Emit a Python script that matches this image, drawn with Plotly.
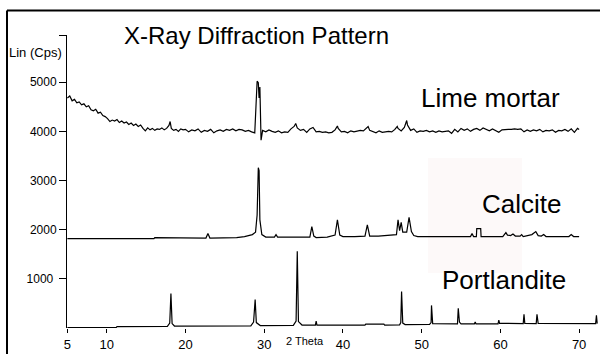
import plotly.graph_objects as go

# ---------------- data ----------------
lime_x = [5.0, 5.3, 5.6, 5.9, 6.2, 6.5, 6.8, 7.1, 7.4, 7.7, 8.0, 8.3, 8.6, 8.9, 9.2, 9.5, 9.8,
          10.1, 10.4, 10.7, 11.0, 11.3, 11.6, 11.9, 12.2, 12.5, 12.8, 13.1, 13.4, 13.7, 14.0,
          14.3, 14.6, 14.9, 15.2, 15.5, 15.8, 16.1, 16.4, 16.7, 17.0, 17.3, 17.6, 17.9, 18.05,
          18.2, 18.5, 18.8, 19.1, 19.4, 19.7,
          20.0, 20.4, 20.8, 21.2, 21.6, 22.0, 22.4, 22.8, 23.2, 23.6, 24.0, 24.4, 24.8, 25.2,
          25.6, 26.0, 26.4, 26.8, 27.2, 27.6, 28.0, 28.4, 28.8,
          29.1, 29.25, 29.35, 29.45, 29.6, 29.8,
          30.2, 30.6, 31.0, 31.4, 31.8, 32.2, 32.6, 33.0, 33.4, 33.8, 34.0, 34.2, 34.6, 35.0,
          35.4, 35.8, 36.2, 36.6, 37.0, 37.4, 37.8, 38.2, 38.6, 39.0, 39.3, 39.4, 39.8, 40.2,
          40.6, 41.0, 41.4, 41.8, 42.2, 42.6, 43.0, 43.2, 43.4, 43.8, 44.2, 44.6, 45.0, 45.4,
          45.8, 46.2, 46.6, 46.9, 47.0, 47.4, 47.8, 48.1, 48.2, 48.6, 49.0, 49.4, 49.8, 50.2,
          50.6, 51.0, 51.4, 51.8, 52.2, 52.6, 53.0, 53.4, 53.8, 54.2, 54.6, 55.0, 55.4, 55.8,
          56.2, 56.6, 57.0, 57.4, 57.8, 58.2, 58.6, 59.0, 59.4, 59.8, 60.2, 60.6, 61.0, 61.4,
          61.8, 62.2, 62.6, 63.0, 63.4, 63.8, 64.2, 64.6, 65.0, 65.4, 65.8, 66.2, 66.6, 67.0,
          67.4, 67.8, 68.2, 68.6, 69.0, 69.4, 69.8, 70.0]
lime_y = [4680, 4720, 4620, 4650, 4580, 4600, 4540, 4560, 4500, 4520, 4440, 4420, 4450, 4370,
          4390, 4320, 4300, 4260, 4200, 4230, 4210, 4240, 4180, 4210, 4170, 4190, 4140, 4170,
          4120, 4150, 4100, 4130, 4060, 4010, 4070, 4030, 4060, 4020, 4050, 4040, 4070, 4030,
          4060, 4120, 4200, 4060, 4020, 4040, 4000, 4050, 4030,
          4040, 3990, 4030, 4010, 4050, 3980, 4020, 4000, 4040, 3970, 4010, 4030, 4000, 4040,
          4020, 4050, 4010, 4040, 4030, 4000, 4020, 3990, 3970,
          5020, 4990, 4680, 4900, 3820, 4020,
          3990, 4030, 4000, 3980, 4010, 3970, 3990, 3980, 4050, 4100, 4160, 4070, 4020, 4040,
          3980, 4050, 4080, 3990, 4000, 3980, 3990, 3970, 3980, 4030, 4110, 4060, 3990, 4000,
          3970, 4010, 3990, 4000, 4020, 4010, 4070, 4100, 4020, 4000, 3970, 4010, 3980, 3990,
          4000, 3990, 4040, 4100, 4060, 4010, 4080, 4220, 4130, 4020, 4050, 3980, 4010, 4000,
          4020, 3990, 4010, 3980, 4010, 3990, 4000, 4010, 3960, 4040, 3990, 4060, 4020, 4050,
          4000, 4040, 4060, 4020, 4070, 4040, 4010, 4050, 4020, 3980, 4030, 4040, 4040, 4040,
          4050, 4040, 4050, 3990, 4030, 4000, 4030, 4010, 4040, 3990, 4020, 4010, 4030, 3980,
          4020, 4010, 4040, 4000, 4050, 3980, 4060, 4040]

calcite_x = [5.0, 16.0, 16.1, 19.5, 19.6, 22.6, 22.85, 23.1, 26.5, 27.5, 28.5, 28.9, 29.1,
             29.25, 29.35, 29.45, 29.7, 30.2, 31.3, 31.5, 31.7, 35.8, 36.05, 36.3, 36.6, 38.0,
             39.0, 39.3, 39.6, 40.0, 41.5, 42.8, 43.1, 43.4, 44.5, 45.5, 46.5, 46.8, 47.0,
             47.2, 47.4, 47.6, 48.1, 48.4, 48.7, 49.0, 49.5, 56.2, 56.4, 56.6, 56.95, 57.0,
             57.5, 57.55, 60.3, 60.5, 60.7, 60.9, 61.3, 61.6, 61.9, 62.5, 62.7, 62.9, 63.6,
             64.0, 64.5, 64.8, 65.2, 65.5, 65.8, 68.7, 69.0, 69.3, 70.0]
calcite_y = [1820, 1820, 1840, 1840, 1825, 1830, 1920, 1830, 1840, 1860, 1900, 1950, 2300,
             3260, 3200, 2200, 1900, 1850, 1850, 1900, 1850, 1850, 2060, 1870, 1840, 1850,
             1890, 2200, 1890, 1860, 1860, 1870, 2100, 1870, 1870, 1880, 1900, 1900, 2200,
             1980, 2150, 1950, 1950, 2250, 1960, 1880, 1860, 1860, 1920, 1860, 1860, 2020,
             2020, 1860, 1860, 1900, 1940, 1890, 1880, 1910, 1870, 1870, 1900, 1860, 1880,
             1900, 1960, 1880, 1870, 1900, 1860, 1860, 1900, 1860, 1860]

port_x = [5.0, 11.2, 11.3, 17.7, 18.0, 18.15, 18.3, 18.6, 28.3, 28.65, 28.85, 29.0, 29.5,
          33.7, 34.05, 34.2, 34.35, 34.8, 36.5, 36.6, 36.7, 42.8, 42.9, 45.2, 45.3, 47.2,
          47.35, 47.45, 47.6, 47.9, 51.0, 51.2, 51.25, 51.4, 54.55, 54.65, 54.8, 55.0, 56.7,
          56.8, 56.9, 59.7, 59.8, 59.9, 62.9, 63.0, 63.1, 64.55, 64.65, 64.8, 72.1, 72.2, 72.3]
port_y = [10, 10, 30, 35, 100, 700, 90, 40, 45, 120, 580, 110, 50,
          55, 140, 1560, 130, 60, 60, 140, 60, 60, 80, 80, 60, 65,
          110, 740, 100, 70, 75, 110, 460, 90, 85, 400, 120, 85, 85,
          120, 85, 85, 160, 95, 90, 280, 95, 90, 280, 95, 90, 260, 90]

y_tickvals = [1000, 2000, 3000, 4000, 5000, 5960]
y_ticktext = ["1000 ", "2000", "3000", "4000", "5000", ""]
x_tickvals = [5, 10, 20, 30, 40, 50, 60, 70]
x_ticktext = ["5", "10", "20", "30", "40", "50", "60", "70"]

FONT = "Liberation Sans, Arial, Helvetica, sans-serif"

fig = go.Figure()
line = dict(color="black", width=1.2)
fig.add_trace(go.Scatter(x=lime_x, y=lime_y, mode="lines", line=line, showlegend=False))
fig.add_trace(go.Scatter(x=calcite_x, y=calcite_y, mode="lines", line=line, showlegend=False))
fig.add_trace(go.Scatter(x=port_x, y=port_y, mode="lines", line=line, showlegend=False))

L, R, T, B = 67, 2, 35, 21
W, H = 600, 354
pw, ph = W - L - R, H - T - B


def px(xp):
    return (xp - L) / pw


def py(yp):
    return (H - B - yp) / ph


fig.update_layout(
    width=W, height=H,
    margin=dict(l=L, r=R, t=T, b=B),
    paper_bgcolor="white", plot_bgcolor="white",
    font=dict(family=FONT, color="black", size=12),
    xaxis=dict(range=[4.95, 72.4], showgrid=False, zeroline=False, showline=False,
               ticks="outside", ticklen=4, tickcolor="black", tickwidth=1,
               tickvals=x_tickvals, ticktext=x_ticktext, tickfont=dict(size=13)),
    yaxis=dict(range=[0, 5960], showgrid=False, zeroline=False, showline=True,
               linecolor="black", linewidth=1,
               ticks="outside", ticklen=7, tickcolor="black", tickwidth=1,
               tickvals=y_tickvals, ticktext=y_ticktext, tickfont=dict(size=12)),
    shapes=[
        dict(type="rect", xref="paper", yref="paper", x0=px(428), x1=px(522),
             y0=py(277), y1=py(160), fillcolor="#fdf9f9", line=dict(width=0), layer="below"),
        dict(type="line", xref="paper", yref="paper", x0=px(7), x1=px(600),
             y0=py(10), y1=py(10), line=dict(color="black", width=2)),
        dict(type="line", xref="paper", yref="paper", x0=px(7), x1=px(7),
             y0=py(10), y1=py(360), line=dict(color="black", width=2)),
    ],
    annotations=[
        dict(text="X-Ray Diffraction Pattern", xref="paper", yref="paper",
             x=px(256), y=py(35), xanchor="center", yanchor="middle",
             showarrow=False, font=dict(size=24)),
        dict(text="Lin (Cps)", xref="paper", yref="paper",
             x=px(35), y=py(53), xanchor="center", yanchor="middle",
             showarrow=False, font=dict(size=13)),
        dict(text="2 Theta", xref="paper", yref="paper",
             x=px(305), y=py(354), xanchor="center", yanchor="bottom",
             showarrow=False, font=dict(size=11)),
        dict(text="Lime mortar", x=58.8, y=4680, xanchor="center", yanchor="middle",
             showarrow=False, font=dict(size=26)),
        dict(text="Calcite", x=62.7, y=2520, xanchor="center", yanchor="middle",
             showarrow=False, font=dict(size=26)),
        dict(text="Portlandite", x=60.5, y=980, xanchor="center", yanchor="middle",
             showarrow=False, font=dict(size=26)),
    ],
)

fig.write_html("out.html", config={"displayModeBar": False},
               post_script="document.body.style.margin='0';document.body.style.overflow='hidden';")
